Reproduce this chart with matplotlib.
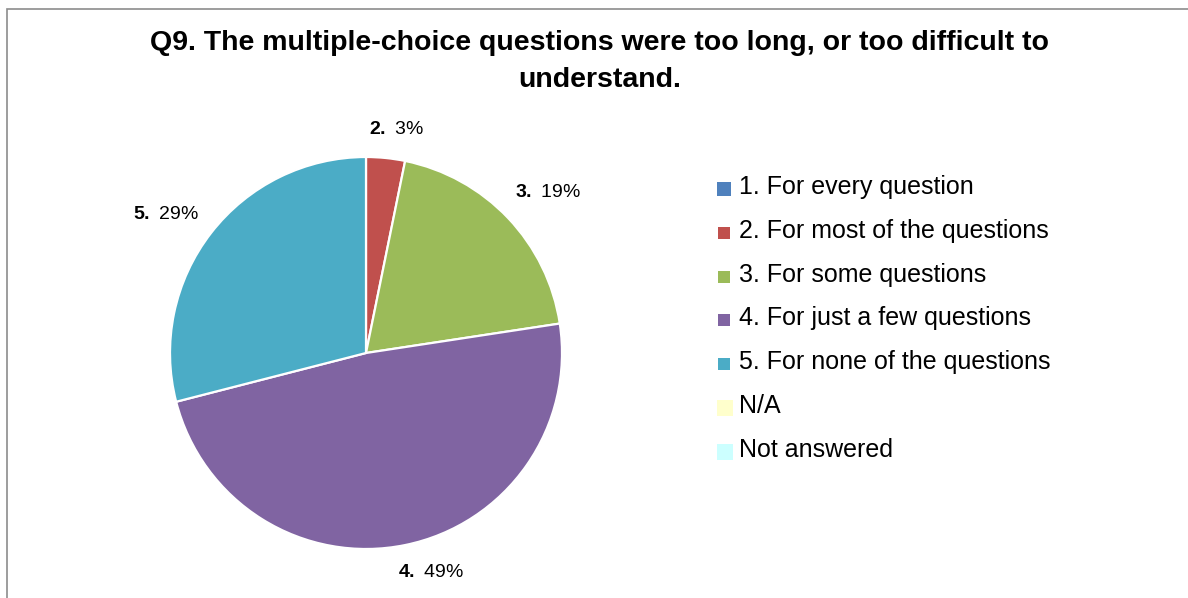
import matplotlib
matplotlib.use('Agg')
import matplotlib.pyplot as plt
from matplotlib.patches import Rectangle
import numpy as np

plt.rcParams['font.family'] = ['Liberation Sans', 'DejaVu Sans']
plt.rcParams['mathtext.fontset'] = 'custom'
plt.rcParams['mathtext.rm'] = 'Liberation Sans'
plt.rcParams['mathtext.bf'] = 'Liberation Sans:bold'

# data
categories = ['1. For every question', '2. For most of the questions', '3. For some questions',
              '4. For just a few questions', '5. For none of the questions', 'N/A', 'Not answered']
short_names = ['1.', '2.', '3.', '4.', '5.', 'N/A', 'Not answered']
shares = [0, 3.2, 19.4, 48.4, 29.0, 0, 0]        # slice sizes as drawn
label_pct = [0, 3, 19, 49, 29, 0, 0]              # percentages printed on the chart
colors = ['#4F81BD', '#C0504D', '#9BBB59', '#8064A2', '#4BACC6', '#FFFFCC', '#CCFFFF']
title_lines = ['Q9. The multiple-choice questions were too long, or too difficult to',
               'understand.']

W, H = 1188, 598
fig = plt.figure(figsize=(W / 100, H / 100), dpi=100)


def fx(px):
    return px / W


def fy(py):
    return 1 - py / H


# outer frame (only top and left edges visible)
fig.add_artist(Rectangle((fx(7), -0.1), 1.2, fy(9) + 0.1, transform=fig.transFigure,
                         fill=False, edgecolor='#8c8c8c', linewidth=1.2))

for line, ty in zip(title_lines, [43, 80]):
    fig.text(fx(600), fy(ty), line, ha='center', va='center', fontsize=20.5,
             fontweight='bold')

# pie
cx, cy, r = 366, 353, 196
ax = fig.add_axes([fx(cx - r), fy(cy + r), fx(2 * r), (2 * r) / H])
idx = [i for i, p in enumerate(shares) if p > 0]
wedges, _ = ax.pie([shares[i] for i in idx], colors=[colors[i] for i in idx],
                   startangle=90, counterclock=False,
                   wedgeprops=dict(edgecolor='white', linewidth=1.6))
ax.set_xlim(-1, 1)
ax.set_ylim(-1, 1)
ax.set_aspect('auto')

# data labels: distance from centre and angular nudge (deg) like Excel's best fit
label_dist = [1.15, 1.24, 1.17, 1.24]
label_nudge = [-1.9, -2.1, 5.0, 3.2]
for w, i, d, nudge in zip(wedges, idx, label_dist, label_nudge):
    ang = np.deg2rad((w.theta1 + w.theta2) / 2 + nudge)
    ax.text(d * np.cos(ang), d * np.sin(ang),
            r'$\mathbf{%s}$ %d%%' % (short_names[i], label_pct[i]),
            ha='center', va='center', fontsize=14, clip_on=False)

# legend
row0, step = 187, 43.8
sizes = [14, 12, 12, 12, 12, 16, 16]
for k, (lab, col) in enumerate(zip(categories, colors)):
    y = row0 + k * step
    s = sizes[k]
    x0 = 717 if s != 12 else 718
    fig.add_artist(Rectangle((fx(x0), fy(y + 2 + s / 2)), fx(s), s / H,
                             transform=fig.transFigure, facecolor=col, edgecolor='none'))
    fig.text(fx(739), fy(y), lab, ha='left', va='center', fontsize=18)

fig.savefig('out.png', dpi=100)
